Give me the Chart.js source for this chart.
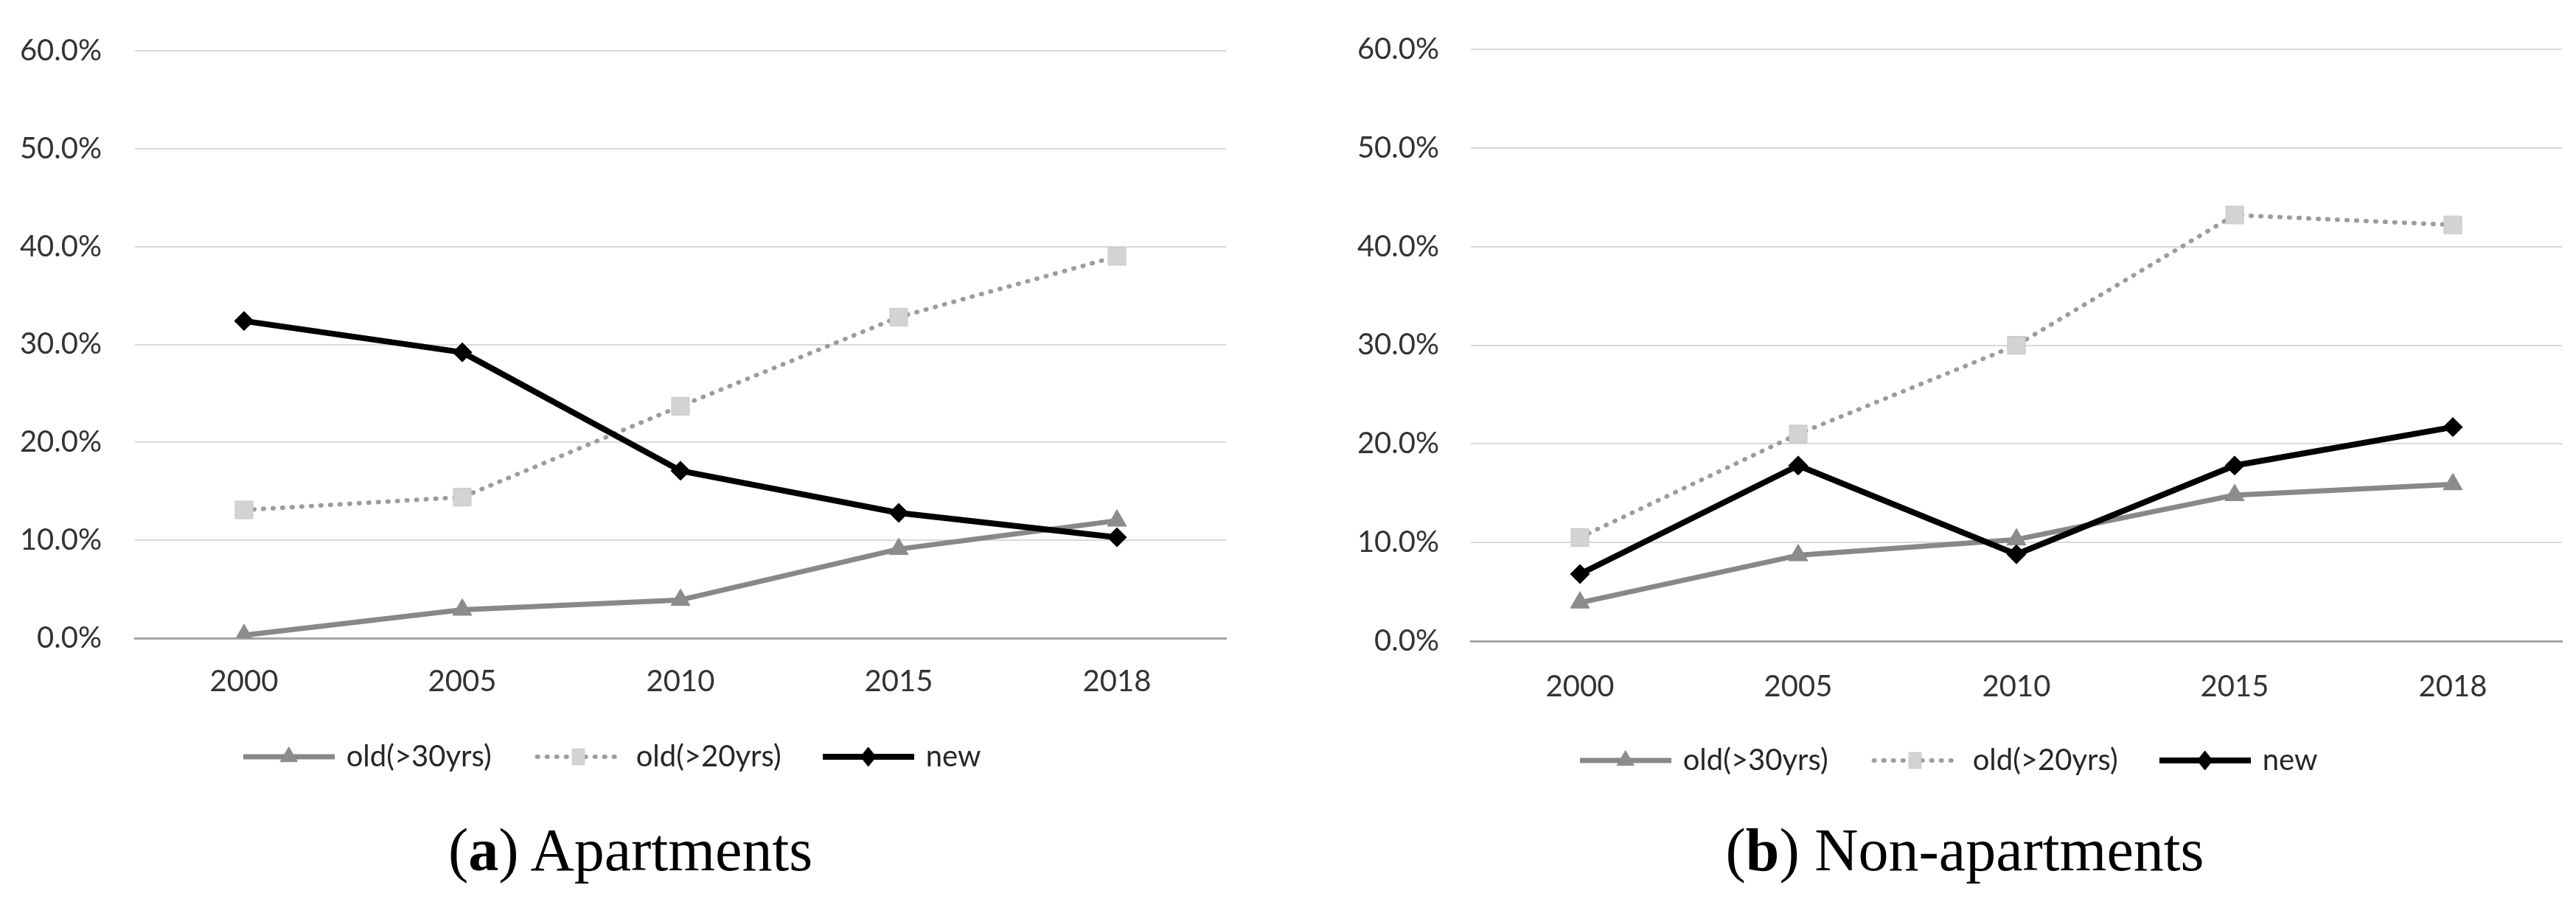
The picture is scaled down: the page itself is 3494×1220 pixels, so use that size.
<!DOCTYPE html>
<html>
<head>
<meta charset="utf-8">
<script src="https://cdn.jsdelivr.net/npm/chart.js@4"></script>
<style>
  html, body { margin: 0; padding: 0; background: #ffffff; }
  body { width: 3494px; height: 1220px; position: relative; overflow: hidden; }
  canvas { position: absolute; top: 0; }
  .cap { position: absolute; width: 1000px; text-align: center; font-family: "Liberation Serif", serif; font-size: 82px; line-height: 82px; color: #000; white-space: nowrap; }
</style>
</head>
<body>
<canvas id="chartA" width="1700" height="1057" style="left:0px;"></canvas>
<canvas id="chartB" width="1744" height="1062" style="left:1750px;"></canvas>
<div class="cap" style="left:355px; top:1113px;">(<b>a</b>) Apartments</div>
<div class="cap" style="left:2165px; top:1113px;">(<b>b</b>) Non-apartments</div>
<script>
// ---------------- data ----------------
const years = ["2000", "2005", "2010", "2015", "2018"];
const seriesNames = ["old(>30yrs)", "old(>20yrs)", "new"];
const yTicks = [0, 10, 20, 30, 40, 50, 60];

// (a) Apartments, percent
const aptOld30 = [0.3, 2.9, 3.9, 9.1, 12.0];
const aptOld20 = [13.1, 14.4, 23.7, 32.8, 39.0];
const aptNew   = [32.4, 29.2, 17.1, 12.8, 10.3];

// (b) Non-apartments, percent
const nonOld30 = [3.9, 8.7, 10.3, 14.8, 15.9];
const nonOld20 = [10.5, 21.0, 30.0, 43.2, 42.2];
const nonNew   = [6.8, 17.8, 8.8, 17.8, 21.7];

// ---------------- styles ----------------
const FONT = "Lato";
const TXT = "#333333";
const styles = [
  { color: "#888888", width: 7, dash: [], point: "triangle", radius: 15, fill: "#8c8c8c", stroke: "#8c8c8c", order: 3 },
  { color: "#9c9c9c", width: 6, dash: [1, 12], point: "rect", radius: 17, fill: "#d3d3d3", stroke: "#c6c6c6", order: 2 },
  { color: "#000000", width: 8, dash: [], point: "rectRot", radius: 13, fill: "#000000", stroke: "#000000", order: 1 }
];

function legendSample(st) {
  const c = document.createElement("canvas");
  c.width = 124; c.height = 40;
  const g = c.getContext("2d");
  g.strokeStyle = st.color;
  g.lineWidth = st.width;
  g.lineCap = st.dash.length ? "round" : "butt";
  g.setLineDash(st.dash);
  g.beginPath(); g.moveTo(st.dash.length ? 6 : 0, 20); g.lineTo(st.dash.length ? 118 : 124, 20); g.stroke();
  g.setLineDash([]);
  g.fillStyle = st.fill; g.strokeStyle = st.stroke; g.lineWidth = 1;
  const x = 62, y = 20, r = st.radius;
  g.beginPath();
  if (st.point === "triangle") {
    const r2 = r * 0.9;
    g.moveTo(x, y - r2);
    g.lineTo(x + r2 * Math.sin(2 * Math.PI / 3), y - r2 * Math.cos(2 * Math.PI / 3));
    g.lineTo(x + r2 * Math.sin(4 * Math.PI / 3), y - r2 * Math.cos(4 * Math.PI / 3));
  } else if (st.point === "rect") {
    const s = r * Math.SQRT1_2 * 0.9;
    g.rect(x - s * 0.75, y - s, 2 * s * 0.75, 2 * s);
  } else {
    g.moveTo(x - r * 0.8, y); g.lineTo(x, y - r); g.lineTo(x + r * 0.8, y); g.lineTo(x, y + r);
  }
  g.closePath(); g.fill(); g.stroke();
  return c;
}
const samples = styles.map(legendSample);

function makeDatasets(values) {
  return values.map((v, i) => {
    const st = styles[i];
    return {
      label: seriesNames[i],
      data: v,
      borderColor: st.color,
      borderWidth: st.width,
      borderDash: st.dash,
      borderCapStyle: st.dash.length ? "round" : "butt",
      borderJoinStyle: "round",
      pointStyle: st.point,
      pointRadius: st.radius,
      pointHoverRadius: st.radius,
      pointBackgroundColor: st.fill,
      pointBorderColor: st.stroke,
      pointBorderWidth: 1,
      tension: 0,
      fill: false,
      order: st.order
    };
  });
}

function makeChart(id, values, cfg) {
  return new Chart(document.getElementById(id), {
    type: "line",
    data: { labels: years, datasets: makeDatasets(values) },
    options: {
      responsive: false,
      animation: false,
      devicePixelRatio: 1,
      events: [],
      layout: { padding: { top: cfg.top, left: cfg.padL, right: cfg.padR, bottom: 0 } },
      scales: {
        x: {
          offset: true,
          grid: { display: false, drawTicks: false },
          border: { display: true, color: "#a6a6a6", width: 3 },
          ticks: { color: TXT, font: { family: FONT, size: 40 }, padding: cfg.xPad, maxRotation: 0, autoSkip: false },
          afterFit: s => { s.height = cfg.xH; }
        },
        y: {
          min: 0, max: 60,
          afterBuildTicks: s => { s.ticks = yTicks.map(v => ({ value: v })); },
          grid: { color: "#d9d9d9", lineWidth: 2, drawTicks: false },
          border: { display: false },
          ticks: { color: TXT, font: { family: FONT, size: 40 }, padding: cfg.yPad, callback: v => v.toFixed(1) + "%" },
          afterFit: s => { s.width = cfg.yW; }
        }
      },
      plugins: {
        tooltip: { enabled: false },
        title: { display: false },
        legend: {
          display: true,
          position: "bottom",
          labels: {
            usePointStyle: true,
            pointStyleWidth: 116,
            padding: 60,
            color: "#262626",
            font: { family: FONT, size: 40 },
            generateLabels: chart => chart.data.datasets.map((d, i) => ({
              text: d.label,
              pointStyle: samples[i],
              datasetIndex: i,
              hidden: false,
              fontColor: "#262626",
              fillStyle: "rgba(0,0,0,0)",
              strokeStyle: "rgba(0,0,0,0)",
              lineWidth: 0
            }))
          }
        }
      }
    }
  });
}

makeChart("chartA", [aptOld30, aptOld20, aptNew], { top: 44, padL: 1, padR: 37, yW: 182, yPad: 45, xPad: 35, xH: 81 });
makeChart("chartB", [nonOld30, nonOld20, nonNew], { top: 40, padL: 65, padR: 19, yW: 180, yPad: 43, xPad: 38, xH: 82 });
</script>
</body>
</html>
